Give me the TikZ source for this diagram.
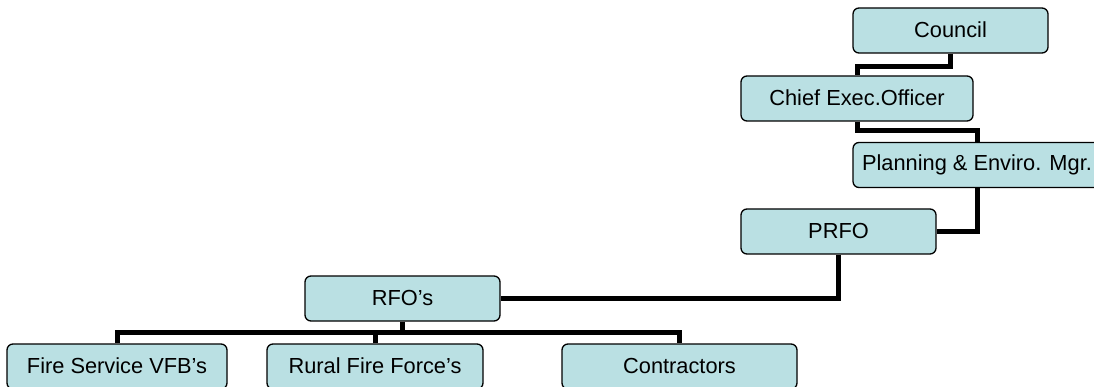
\documentclass[tikz,border=0pt]{standalone}
\usepackage{fontspec}
\setmainfont{Liberation Sans}
\definecolor{boxfill}{RGB}{186,224,227}
\tikzset{
  orgbox/.style={draw=black, line width=1.3pt, fill=boxfill, rounded corners=6pt,
    minimum height=45pt, inner sep=0pt, font=\fontsize{21.8}{26}\selectfont},
  link/.style={line width=5pt, black}
}
\begin{document}
\begin{tikzpicture}[x=1pt,y=-1pt]
\useasboundingbox (0,0) rectangle (1094,387);
\node[orgbox, minimum width=195pt] (council) at (950.5,30.5) {\raisebox{2pt}{Council}};
\node[orgbox, minimum width=232pt] (ceo) at (857,98.5) {\raisebox{2pt}{Chief Exec.Officer}};
\node[orgbox, minimum width=248pt] (plan) at (977,165) {\raisebox{2pt}{Planning \& Enviro. Mgr.}};
\node[orgbox, minimum width=195pt] (prfo) at (838.5,231.5) {\raisebox{2pt}{PRFO}};
\node[orgbox, minimum width=195pt] (rfo) at (402.5,298.5) {\raisebox{2pt}{RFO's}};
\node[orgbox, minimum width=220pt] (fs) at (117,366.5) {\raisebox{2pt}{Fire Service VFB's}};
\node[orgbox, minimum width=216pt] (rural) at (375,366.5) {\raisebox{2pt}{Rural Fire Force's}};
\node[orgbox, minimum width=235pt] (contr) at (679.5,366.5) {\raisebox{2pt}{Contractors}};
\coordinate (j1) at (0,67);
\coordinate (j2) at (0,131);
\coordinate (bus) at (0,332);
\draw[link] (council.south) -- (council.south |- j1) -| (ceo.north);
\draw[link] (ceo.south) -- (ceo.south |- j2) -| (plan.north);
\draw[link] (plan.south) |- (prfo.east);
\draw[link] (prfo.south) |- (rfo.east);
\draw[link] (rfo.south) -- (rfo.south |- bus);
\draw[link] (fs.north) -- (fs.north |- bus) -- (contr.north |- bus) -- (contr.north);
\draw[link] (rural.north) -- (rural.north |- bus);
\end{tikzpicture}
\end{document}
